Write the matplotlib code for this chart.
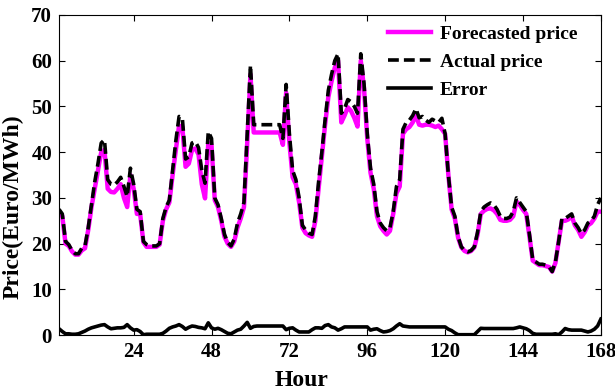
import numpy as np
import matplotlib
matplotlib.use("Agg")
import matplotlib.pyplot as plt

# hourly values (hours 1..168)
hours = np.arange(1, 169)

actual = [
    27.5, 26.5, 20.5, 19.8, 18.5, 17.8, 17.8, 19.0, 19.5, 23.5, 28.5, 33.5,
    37.5, 42.0, 42.7, 34.0, 33.0, 32.8, 33.5, 34.5, 32.5, 30.3, 36.5, 33.0,
    27.5, 27.0, 20.5, 19.8, 19.5, 19.5, 19.5, 20.0, 25.5, 28.0, 29.5, 36.0,
    42.5, 47.8, 47.5, 38.5, 39.0, 42.0, 42.3, 41.0, 36.0, 33.2, 44.5, 43.0,
    30.0, 28.5, 25.5, 22.0, 20.3, 19.5, 21.0, 24.5, 26.5, 29.0, 44.0, 59.0,
    46.0, 46.0, 46.0, 46.0, 46.0, 46.0, 46.0, 46.0, 46.0, 43.0, 54.8, 44.0,
    36.0, 34.0, 30.0, 24.0, 23.0, 22.3, 22.0, 26.0, 33.5, 40.0, 47.0, 53.5,
    57.0, 60.0, 61.5, 48.5, 49.5, 51.5, 51.0, 50.0, 48.5, 61.5, 55.0, 44.0,
    36.5, 33.0, 27.0, 24.5, 23.5, 22.8, 23.5, 27.0, 32.5, 34.0, 45.0, 46.5,
    47.0, 48.0, 49.5, 47.5, 47.8, 47.0, 46.5, 47.2, 46.8, 46.5, 47.4, 44.0,
    35.0, 28.0, 26.0, 21.5, 19.3, 18.5, 18.2, 18.5, 19.3, 22.5, 27.0, 28.0,
    28.5, 28.9, 28.5, 27.5, 26.0, 25.5, 25.5, 25.8, 27.0, 30.0, 29.0, 28.0,
    27.0, 22.0, 16.5, 16.0, 15.5, 15.5, 15.3, 15.0, 13.9, 16.0, 20.5, 25.5,
    25.5, 26.0, 26.5, 24.5, 23.5, 22.2, 23.0, 24.5, 25.0, 26.0, 28.5, 30.0,
]

forecast = [
    26.5, 26.0, 20.0, 19.5, 18.3, 17.6, 17.6, 18.5, 19.0, 23.0, 28.0, 32.0,
    36.0, 40.0, 40.5, 32.0, 31.3, 31.2, 32.0, 33.0, 30.0, 28.0, 35.0, 32.0,
    26.5, 26.5, 20.3, 19.3, 19.3, 19.3, 19.3, 19.8, 25.0, 27.5, 29.0, 35.0,
    40.5, 45.8, 45.5, 36.8, 37.5, 40.5, 40.8, 39.5, 33.0, 29.9, 42.0, 41.5,
    29.5, 28.0, 25.0, 21.5, 20.0, 19.3, 20.5, 23.5, 25.5, 28.0, 42.0, 57.0,
    44.3, 44.3, 44.3, 44.3, 44.3, 44.3, 44.3, 44.3, 44.3, 41.6, 53.0, 42.0,
    34.5, 33.0, 29.0, 23.5, 22.3, 21.8, 21.5, 25.0, 32.0, 39.0, 46.0, 52.0,
    55.5, 58.5, 60.0, 46.5, 48.0, 49.8, 49.0, 47.5, 45.6, 60.0, 54.0, 43.0,
    35.5, 32.0, 26.0, 23.8, 22.8, 22.0, 22.8, 26.5, 31.0, 32.5, 44.0, 45.0,
    45.5, 46.5, 48.0, 46.0, 45.8, 46.0, 46.0, 45.8, 45.5, 45.8, 45.0, 44.0,
    35.0, 27.5, 25.5, 21.3, 19.2, 18.4, 18.1, 18.4, 19.2, 22.0, 26.5, 27.2,
    27.6, 27.7, 27.3, 26.5, 25.2, 25.0, 25.0, 25.2, 26.0, 29.2, 28.5, 27.4,
    26.5, 21.5, 16.3, 15.8, 15.3, 15.3, 15.1, 14.9, 13.9, 15.8, 20.5, 25.0,
    25.0, 25.3, 26.0, 24.0, 23.0, 21.5, 22.5, 24.0, 24.5, 25.5, 27.0, 27.0,
]

error = [
    1.4, 0.8, 0.3, 0.3, 0.2, 0.2, 0.3, 0.6, 0.9, 1.3, 1.6, 1.8,
    2.0, 2.2, 2.3, 1.8, 1.4, 1.5, 1.6, 1.6, 1.7, 2.3, 1.6, 1.1,
    1.2, 0.8, 0.1, 0.2, 0.2, 0.2, 0.2, 0.2, 0.4, 0.9, 1.5, 1.8,
    2.0, 2.3, 1.9, 1.3, 1.7, 2.0, 1.9, 1.7, 1.6, 1.4, 2.7, 1.6,
    1.3, 1.5, 1.2, 0.8, 0.4, 0.3, 0.7, 1.1, 1.3, 2.0, 2.8, 1.5,
    1.9, 2.0, 2.0, 2.0, 2.0, 2.0, 2.0, 2.0, 2.0, 2.0, 1.2, 1.5,
    1.6, 1.1, 0.7, 0.7, 0.7, 0.7, 1.2, 1.6, 1.6, 1.5, 2.1, 2.3,
    1.8, 1.6, 1.1, 1.4, 1.8, 1.8, 1.8, 1.8, 1.8, 1.8, 1.8, 1.8,
    1.1, 1.3, 1.4, 1.0, 0.7, 0.8, 1.0, 1.4, 2.0, 2.5, 2.0, 1.9,
    1.8, 1.8, 1.8, 1.8, 1.8, 1.8, 1.8, 1.8, 1.8, 1.8, 1.8, 1.8,
    1.3, 1.0, 0.5, 0.1, 0.1, 0.1, 0.1, 0.1, 0.1, 0.8, 1.5, 1.45,
    1.45, 1.45, 1.45, 1.45, 1.45, 1.45, 1.45, 1.45, 1.45, 1.6, 1.8, 1.6,
    1.4, 1.0, 0.4, 0.2, 0.2, 0.2, 0.2, 0.2, 0.2, 0.3, 0.1, 0.7,
    1.45, 1.2, 1.1, 1.1, 1.1, 1.1, 0.9, 0.7, 0.9, 1.3, 2.0, 3.5,
]

xticks = [24, 48, 72, 96, 120, 144, 168]

plt.rcParams['font.family'] = ['Liberation Serif', 'DejaVu Serif']
plt.rcParams['font.weight'] = 'bold'

fig = plt.figure(figsize=(6.15, 3.92), dpi=100)
ax = fig.add_axes([0.096, 0.145, 0.881, 0.817])

ax.plot(hours, forecast, color='#ff00ff', lw=3.2, label='Forecasted price')
ax.plot(hours, actual, color='black', lw=2.6, linestyle=(0, (3, 1.4)),
        label='Actual price')
ax.plot(hours, error, color='black', lw=2.6, label='Error')

ax.set_xlim(1, 168)
ax.set_ylim(0, 70)
ax.set_xticks(xticks)
ax.set_yticks(range(0, 71, 10))
ax.tick_params(direction='in', top=True, right=True, labelsize=15, length=4,
               pad=5)
for lab in ax.get_xticklabels() + ax.get_yticklabels():
    lab.set_fontweight('bold')

# the labels sit a little off-centre in the original
ax.set_xlabel('Hour', fontsize=17, fontweight='bold', labelpad=5)
ax.xaxis.set_label_coords(0.448, -0.11)
ax.set_ylabel('Price(Euro/MWh)', fontsize=17, fontweight='bold')
ax.yaxis.set_label_coords(-0.066, 0.40)

leg = ax.legend(loc='upper right', frameon=False, fontsize=14,
                handlelength=2.2, handletextpad=0.45, labelspacing=0.55,
                borderaxespad=0.2, bbox_to_anchor=(0.978, 1.005))
for t in leg.get_texts():
    t.set_fontweight('bold')

fig.savefig('out.png', dpi=100)
